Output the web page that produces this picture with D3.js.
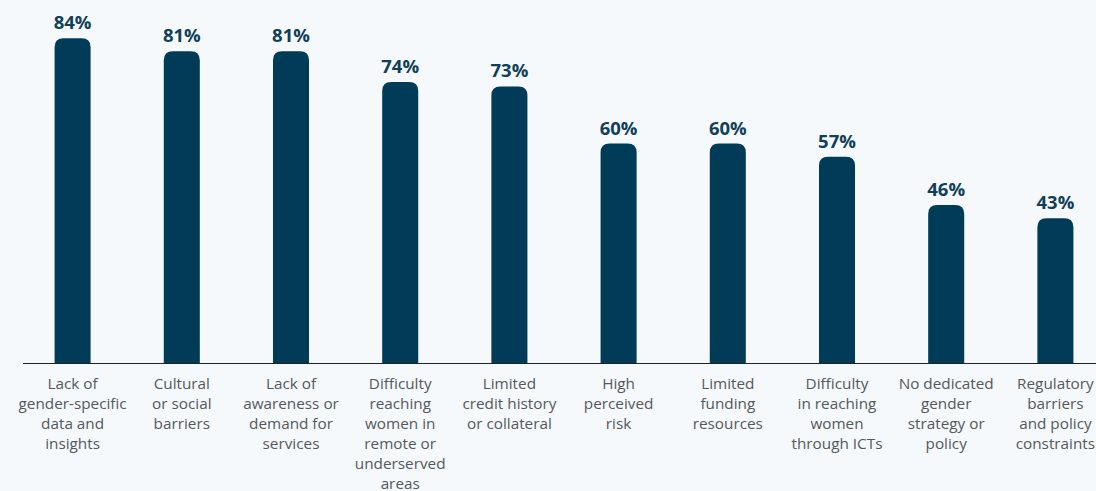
<!DOCTYPE html>
<html>
<head>
<meta charset="utf-8">
<script src="https://cdn.jsdelivr.net/npm/d3@7"></script>
<style>
  html, body { margin: 0; padding: 0; background: #f5f9fc; }
  svg { display: block; }
</style>
</head>
<body>
<svg id="chart" width="1096" height="491"></svg>
<script>
// Barriers to serving women, share of respondents (%)
const categories = [
  "Lack of gender-specific data and insights",
  "Cultural or social barriers",
  "Lack of awareness or demand for services",
  "Difficulty reaching women in remote or underserved areas",
  "Limited credit history or collateral",
  "High perceived risk",
  "Limited funding resources",
  "Difficulty in reaching women through ICTs",
  "No dedicated gender strategy or policy",
  "Regulatory barriers and policy constraints"
];
const categoryLines = [
  ["Lack of", "gender-specific", "data and", "insights"],
  ["Cultural", "or social", "barriers"],
  ["Lack of", "awareness or", "demand for", "services"],
  ["Difficulty", "reaching", "women in", "remote or", "underserved", "areas"],
  ["Limited", "credit history", "or collateral"],
  ["High", "perceived", "risk"],
  ["Limited", "funding", "resources"],
  ["Difficulty", "in reaching", "women", "through ICTs"],
  ["No dedicated", "gender", "strategy or", "policy"],
  ["Regulatory", "barriers", "and policy", "constraints"]
];
const values = [84, 81, 81, 74, 73, 60, 60, 57, 46, 43];

const svg = d3.select("#chart");
const baseY = 363;

const x = d3.scaleBand()
  .domain(categories)
  .range([18, 1110])
  .paddingInner(0.67)
  .paddingOuter(0.335);

const y = d3.scaleLinear()
  .domain([10, 90])
  .range([baseY, baseY - 80 * 4.39]);

const barColor = "#003c58";
const r = 9;

// Bars with rounded top corners
function barPath(d, i) {
  const x0 = x(categories[i]);
  const w = x.bandwidth();
  const top = y(d);
  return `M${x0},${baseY}V${top + r}Q${x0},${top} ${x0 + r},${top}` +
         `H${x0 + w - r}Q${x0 + w},${top} ${x0 + w},${top + r}V${baseY}Z`;
}

svg.append("g")
  .selectAll("path")
  .data(values)
  .join("path")
  .attr("d", barPath)
  .attr("fill", barColor);

// Value labels
svg.append("g")
  .selectAll("text")
  .data(values)
  .join("text")
  .attr("x", (d, i) => x(categories[i]) + x.bandwidth() / 2)
  .attr("y", d => y(d) - 9)
  .attr("text-anchor", "middle")
  .attr("font-family", "'Open Sans', sans-serif")
  .attr("font-weight", 700)
  .attr("font-size", 18.5)
  .attr("fill", "#103f58")
  .text(d => d + "%");

// Baseline
svg.append("line")
  .attr("x1", 23).attr("x2", 1096)
  .attr("y1", baseY + 0.5).attr("y2", baseY + 0.5)
  .attr("stroke", "#222").attr("stroke-width", 1.2);

// Category labels
const labels = svg.append("g")
  .selectAll("text")
  .data(categoryLines)
  .join("text")
  .attr("text-anchor", "middle")
  .attr("font-family", "'Open Sans', sans-serif")
  .attr("font-size", 15.3)
  .attr("fill", "#54585b");

labels.each(function(lines, i) {
  const cx = x(categories[i]) + x.bandwidth() / 2;
  d3.select(this).selectAll("tspan")
    .data(lines)
    .join("tspan")
    .attr("x", cx)
    .attr("y", (l, j) => 388.5 + j * 20)
    .text(l => l);
});
</script>
</body>
</html>
